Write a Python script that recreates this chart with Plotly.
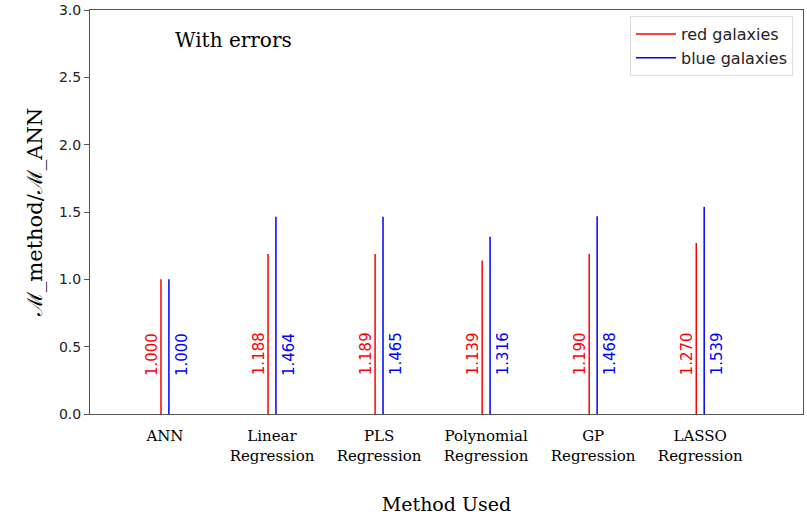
import plotly.graph_objects as go

methods = ["ANN", "Linear<br>Regression", "PLS<br>Regression", "Polynomial<br>Regression", "GP<br>Regression", "LASSO<br>Regression"]
red_vals = [1.000, 1.188, 1.189, 1.139, 1.190, 1.270]
blue_vals = [1.000, 1.464, 1.465, 1.316, 1.468, 1.539]
yticks = [0.0, 0.5, 1.0, 1.5, 2.0, 2.5, 3.0]

off = 0.037
pos = list(range(len(methods)))

def segs(vals, sign):
    xs, ys = [], []
    for i, v in zip(pos, vals):
        xs += [i + sign * off, i + sign * off, None]
        ys += [0, v, None]
    return xs, ys

fig = go.Figure()
rx, ry = segs(red_vals, -1)
bx, by = segs(blue_vals, 1)
fig.add_trace(go.Scatter(x=rx, y=ry, mode="lines", line=dict(color="#ff0000", width=1.5), name="red galaxies"))
fig.add_trace(go.Scatter(x=bx, y=by, mode="lines", line=dict(color="#0000ff", width=1.5), name="blue galaxies"))

for i, v in zip(pos, red_vals):
    fig.add_annotation(x=i - off, y=0.27, text=f"{v:.3f}", textangle=-90, showarrow=False,
                       xanchor="right", yanchor="bottom", xshift=2,
                       font=dict(family="DejaVu Sans", size=15, color="#ff0000"))
for i, v in zip(pos, blue_vals):
    fig.add_annotation(x=i + off, y=0.27, text=f"{v:.3f}", textangle=-90, showarrow=False,
                       xanchor="left", yanchor="bottom", xshift=2,
                       font=dict(family="DejaVu Sans", size=15, color="#0000ff"))

fig.add_annotation(x=0.116, y=0.925, xref="paper", yref="paper", text="With errors", showarrow=False,
                   xanchor="left", yanchor="middle", font=dict(family="DejaVu Serif", size=20, color="black"))

fig.update_xaxes(range=[-0.7, 5.96], tickvals=pos, ticktext=methods, showline=True, linecolor="#555555",
                 linewidth=1, mirror=True, ticks="", showgrid=False, zeroline=False, automargin=False,
                 ticklabelstandoff=8,
                 tickfont=dict(family="DejaVu Serif", size=15, color="black"),
                 title=dict(text="Method Used", font=dict(family="DejaVu Serif", size=19, color="black"), standoff=34))
fig.update_yaxes(range=[0, 3.0], tickvals=yticks, ticktext=[f"{t:.1f}" for t in yticks], showline=True,
                 linecolor="#555555", linewidth=1, mirror=True, ticks="outside", ticklen=5, tickcolor="#555555",
                 showgrid=False, zeroline=False, automargin=False,
                 tickfont=dict(family="DejaVu Sans", size=14, color="#222222"),
                 title=dict(text="ℳ_method/ℳ_ANN", font=dict(family="DejaVu Serif", size=21, color="black"), standoff=10))

fig.update_layout(width=807, height=517, margin=dict(l=90, r=4, t=10, b=103), plot_bgcolor="white",
                  paper_bgcolor="white",
                  legend=dict(x=0.986, y=0.985, xanchor="right", yanchor="top", bordercolor="#dddddd", borderwidth=1,
                              bgcolor="white", itemwidth=40,
                              font=dict(family="DejaVu Sans", size=16, color="#222222")))

fig.write_html("out.html", config={"displayModeBar": False},
               post_script="document.body.style.margin='0';document.body.style.overflow='hidden';")
